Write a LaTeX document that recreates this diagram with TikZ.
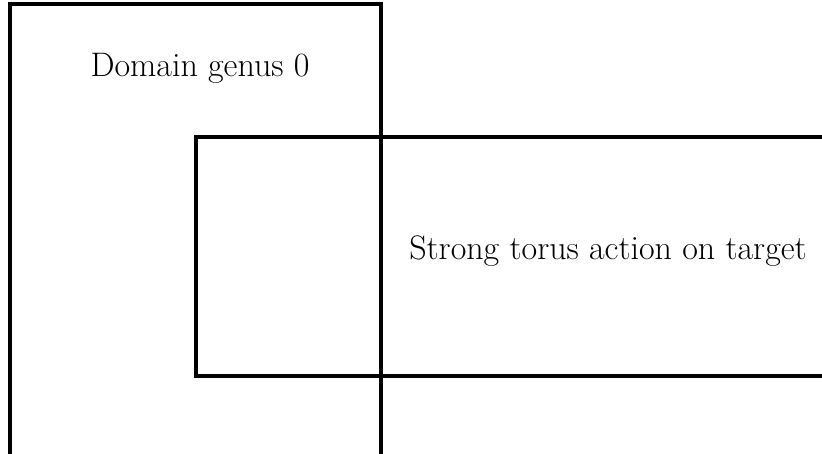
\documentclass[tikz,border=0pt]{standalone}
\begin{document}
\begin{tikzpicture}[x=1pt,y=1pt,
  box/.style={line width=3.2pt},
  lbl/.style={font=\fontsize{34}{40}\selectfont, inner sep=0pt}]
\useasboundingbox (0,0) rectangle (822,454);
\clip (0,0) rectangle (822,454);
% left rectangle (domain genus 0)
\draw[box] (10,-60) |- (381,450) -- (381,-60);
% right rectangle (strong torus action)
\draw[box] (900,317) -- (196,317) -- (196,78) -- (900,78);
\node[lbl] (dom) at (200,386) {Domain genus 0};
\node[lbl] (tor) at (608,203) {Strong torus action on target};
\end{tikzpicture}
\end{document}
